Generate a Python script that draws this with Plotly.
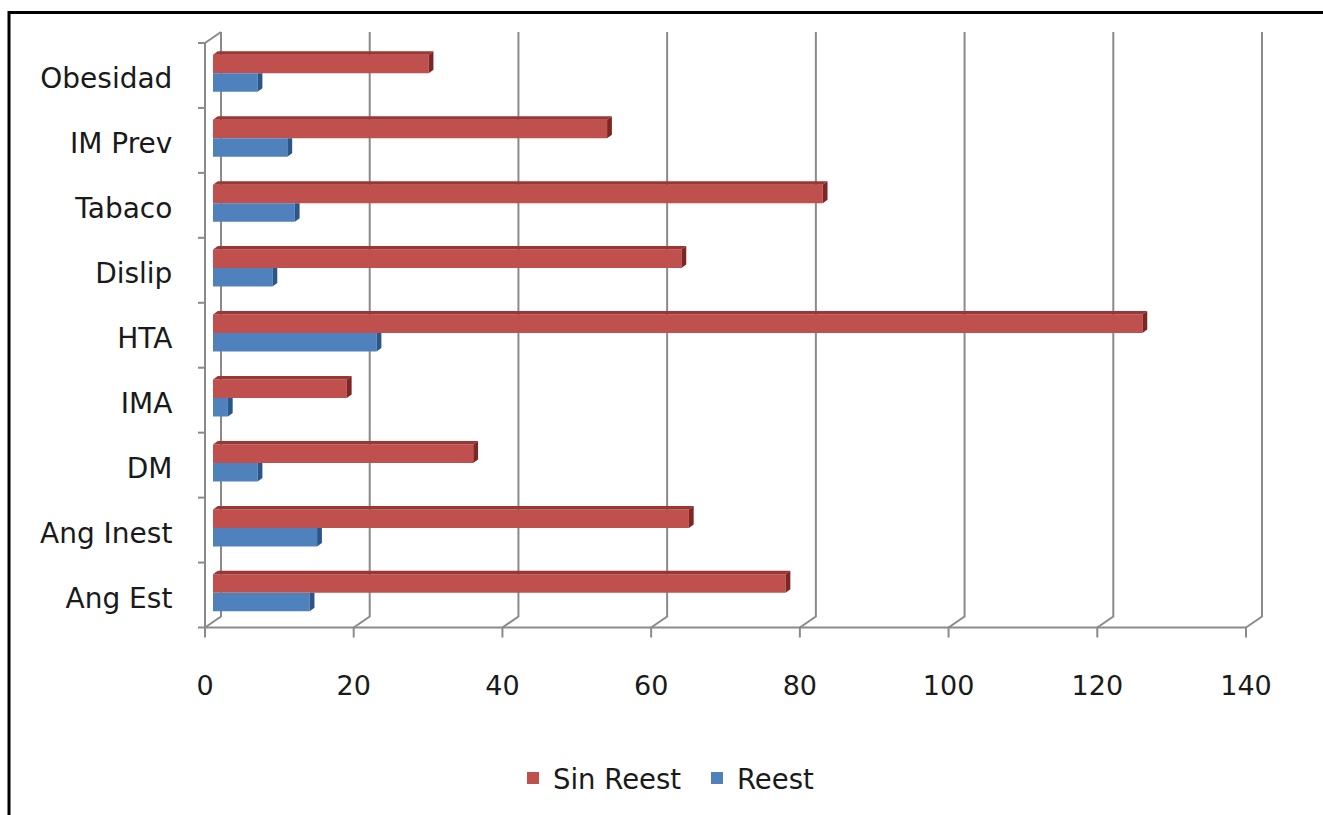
import plotly.graph_objects as go

# ---- data -------------------------------------------------------------
categories = ["Ang Est", "Ang Inest", "DM", "IMA", "HTA",
              "Dislip", "Tabaco", "IM Prev", "Obesidad"]
sin_reest = [77, 64, 35, 18, 125, 63, 82, 53, 29]
reest = [13, 14, 6, 2, 22, 8, 11, 10, 6]
x_ticks = [0, 20, 40, 60, 80, 100, 120, 140]
series_names = ["Sin Reest", "Reest"]

# ---- page / box geometry (pixels) -------------------------------------
W, H = 1323, 815
X_ZERO, X_MAX = 213.0, 1254.0        # value 0 / 140 at the depth of the bars
Y_TOP, Y_BOT = 37.5, 622.0           # category band at the depth of the bars
DEPTH_X, DEPTH_Y = 8.0, 5.5          # half depth of the box (front -, back +)
PLOT_L, PLOT_R, PLOT_T, PLOT_B = 195, 1272, 26, 642

ppu_x = (X_MAX - X_ZERO) / x_ticks[-1]
ppu_y = (Y_BOT - Y_TOP) / len(categories)


def ux(px):
    """pixel length -> x units"""
    return px / ppu_x


def uy(px):
    """pixel length -> y units"""
    return px / ppu_y


x_range = [(PLOT_L - X_ZERO) / ppu_x, (PLOT_R - X_ZERO) / ppu_x]
y_range = [(Y_BOT - PLOT_B) / ppu_y - 0.5, (Y_BOT - PLOT_T) / ppu_y - 0.5]


def paper_x(px):
    return (px - PLOT_L) / (PLOT_R - PLOT_L)


def paper_y(py):
    return (PLOT_B - py) / (PLOT_B - PLOT_T)


# ---- styling ----------------------------------------------------------
RED, RED_TOP, RED_SIDE = "#c0504d", "#9a3633", "#7e2624"
BLUE, BLUE_SIDE = "#4f81bd", "#2b568a"
GRID = "#8a8a8a"
FONT = "DejaVu Sans"
TEXT = "#1a1a1a"
CAT_SIZE, NUM_SIZE, LEG_SIZE = 28, 27, 27.5

BAR_W = uy(18.5)
RED_OFF = -uy(3.3)
BLUE_OFF = RED_OFF - BAR_W
FACE_DX, FACE_DY = ux(4.8), uy(3.5)   # visible depth of each bar

ypos = list(range(len(categories)))
n_top = len(categories) - 0.5
n_bot = -0.5

fig = go.Figure()
fig.add_trace(go.Bar(y=ypos, x=sin_reest, orientation="h", name=series_names[0],
                     width=BAR_W, offset=RED_OFF, marker=dict(color=RED, line=dict(width=0))))
fig.add_trace(go.Bar(y=ypos, x=reest, orientation="h", name=series_names[1],
                     width=BAR_W, offset=BLUE_OFF, marker=dict(color=BLUE, line=dict(width=0))))

shapes = []

# back wall grid lines with their floor diagonals
fx, fy = -ux(DEPTH_X), -uy(DEPTH_Y)
bx, by = ux(DEPTH_X), uy(DEPTH_Y)
for v in x_ticks:
    path = (f"M {v + fx},{n_bot + fy} L {v + bx},{n_bot + by} "
            f"L {v + bx},{n_top + by}")
    shapes.append(dict(type="path", path=path, xref="x", yref="y", layer="below",
                       line=dict(color=GRID, width=2)))
    # tick mark under the front axis
    shapes.append(dict(type="line", xref="x", yref="y", layer="below",
                       x0=v + fx, x1=v + fx, y0=n_bot + fy, y1=n_bot + fy - uy(10),
                       line=dict(color=GRID, width=2)))

# front vertical axis, its top diagonal and the front horizontal axis
shapes.append(dict(type="path", xref="x", yref="y", layer="below",
                   path=(f"M {bx},{n_top + by} L {fx},{n_top + fy} "
                         f"L {fx},{n_bot + fy} L {x_ticks[-1] + fx},{n_bot + fy}"),
                   line=dict(color=GRID, width=2)))
for k in range(len(categories) + 1):
    yk = k - 0.5 + fy
    shapes.append(dict(type="line", xref="x", yref="y", layer="below",
                       x0=fx, x1=fx - ux(7), y0=yk, y1=yk,
                       line=dict(color=GRID, width=2)))

# top and end faces of the bars
for i, (vr, vb) in enumerate(zip(sin_reest, reest)):
    t = i + RED_OFF + BAR_W
    b = i + RED_OFF
    shapes.append(dict(type="path", xref="x", yref="y", layer="above",
                       path=(f"M 0,{t} L {vr},{t} L {vr + FACE_DX},{t + FACE_DY} "
                             f"L {FACE_DX},{t + FACE_DY} Z"),
                       fillcolor=RED_TOP, line=dict(width=0)))
    shapes.append(dict(type="path", xref="x", yref="y", layer="above",
                       path=(f"M {vr},{b} L {vr},{t} L {vr + FACE_DX},{t + FACE_DY} "
                             f"L {vr + FACE_DX},{b + FACE_DY} Z"),
                       fillcolor=RED_SIDE, line=dict(width=0)))
    tb = i + BLUE_OFF + BAR_W
    bb = i + BLUE_OFF
    shapes.append(dict(type="path", xref="x", yref="y", layer="above",
                       path=(f"M {vb},{bb} L {vb},{tb} L {vb + FACE_DX},{tb} "
                             f"L {vb + FACE_DX},{bb + FACE_DY} Z"),
                       fillcolor=BLUE_SIDE, line=dict(width=0)))

# outer black frame (top and left edges)
shapes.append(dict(type="line", xref="paper", yref="paper",
                   x0=paper_x(8), x1=paper_x(W + 5), y0=paper_y(12.5), y1=paper_y(12.5),
                   line=dict(color="black", width=3)))
shapes.append(dict(type="line", xref="paper", yref="paper",
                   x0=paper_x(9), x1=paper_x(9), y0=paper_y(11), y1=paper_y(H + 5),
                   line=dict(color="black", width=3)))

fig.update_layout(
    width=W, height=H,
    margin=dict(l=PLOT_L, r=W - PLOT_R, t=PLOT_T, b=H - PLOT_B, pad=0),
    paper_bgcolor="white", plot_bgcolor="white",
    barmode="overlay",
    showlegend=True,
    font=dict(family=FONT, size=CAT_SIZE, color=TEXT),
    xaxis=dict(range=x_range, showgrid=False, zeroline=False, showline=False,
               tickmode="array", tickvals=[v + fx for v in x_ticks],
               ticktext=[str(v) for v in x_ticks],
               ticks="outside", ticklen=20, tickcolor="rgba(0,0,0,0)",
               tickfont=dict(family=FONT, size=NUM_SIZE, color=TEXT), fixedrange=True),
    yaxis=dict(range=y_range, showgrid=False, zeroline=False, showline=False,
               tickmode="array", tickvals=[p + fy - uy(3) for p in ypos],
               ticktext=categories,
               ticks="outside", ticklen=16, tickcolor="rgba(0,0,0,0)",
               tickfont=dict(family=FONT, size=CAT_SIZE, color=TEXT), fixedrange=True),
    legend=dict(orientation="h", x=paper_x(513), y=paper_y(778),
                xanchor="left", yanchor="middle", entrywidth=139,
                font=dict(family=FONT, size=LEG_SIZE, color=TEXT),
                bgcolor="rgba(0,0,0,0)", traceorder="normal"),
    shapes=shapes,
)

fig.write_html("out.html")
